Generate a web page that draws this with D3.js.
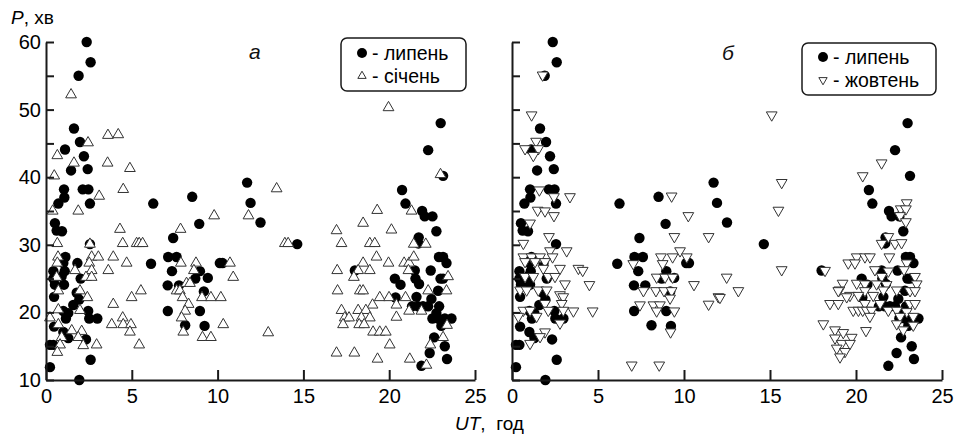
<!DOCTYPE html>
<html><head><meta charset="utf-8">
<script src="https://cdn.jsdelivr.net/npm/d3@7"></script>
<style>
body{margin:0;background:#fff;}
svg{display:block;font-family:"Liberation Sans",Arial,sans-serif;}
</style></head>
<body><svg id="c" width="954" height="437"></svg>
<script>
// ---- data: [UT (h), P (min)] ----
const july = [
[2.37,60],[2.60,57],[1.90,55],[1.63,47.2],[1.98,45.2],[1.11,44.1],[2.21,43.1],[2.43,41.2],[1.46,41.0],[1.05,38.2],[2.14,38.2],[2.47,38.2],[1.07,37],[0.72,36.1],[2.56,36.1],[0.52,33.2],[0.62,32.1],[0.93,32.0],[2.56,30.1],[1.13,28.2],[1.01,27.3],[1.83,27.3],[0.43,26.1],[1.09,26.1],[0.43,25.0],[0.91,25.3],[2.02,25.0],[0.52,24.1],[1.05,24.1],[0.47,22.3],[1.79,22.9],[1.94,21.9],[1.59,21.1],[1.01,20.2],[2.46,20.2],[1.3,19.9],[1.16,19.1],[2.52,19.1],[2.99,19.1],[0.47,17.9],[1.01,17.1],[1.3,16.2],[2.33,16.0],[0.23,15.2],[0.43,15.2],[2.6,13.0],[0.23,11.9],[1.94,10.0],
[6.25,36.1],[8.52,37.1],[8.93,33.1],[7.41,31.0],[7.12,28.2],[7.61,28.2],[6.12,27.2],[7.34,26.1],[8.97,26.1],[10.13,27.3],[10.29,27.3],[7.09,24.0],[7.75,24.0],[8.70,25.0],[9.43,25.1],[9.2,23.1],[7.1,20.2],[8.97,20.2],[8.11,18.1],[9.24,18.0],
[11.72,39.2],[11.92,36.2],[12.5,33.3],[14.64,30.1],[18.0,26.2],
[23.0,48],[22.27,44],[23.14,40.2],[20.75,38.1],[20.95,36.1],[21.92,35.0],[22.07,34.2],[22.52,34.2],[22.75,32.0],[21.72,31.1],[21.7,30.2],[22.9,28.2],[23.14,28.2],[23.34,27.3],[22.42,26.2],[21.49,26.2],[22.99,25.0],[23.14,25.0],[20.33,25.0],[20.66,24.1],[21.53,25.0],[21.74,24.2],[22.85,23.2],[22.46,22.0],[20.37,22.2],[21.59,22.3],[21.33,20.9],[21.68,20.9],[21.97,20.9],[22.27,20.9],[22.91,20.9],[22.75,19.9],[22.52,19.1],[22.85,19.1],[23.24,19.1],[23.63,19.1],[23.04,18.0],[22.62,16.3],[23.24,15.0],[22.36,14.0],[23.37,13.1],[21.88,12.1]
];
const january = [
[1.46,52.2],[2.45,45.1],[3.61,46.2],[4.21,46.3],[0.66,43.2],[1.63,42.1],[3.59,42.1],[4.89,41.3],[0.48,40.2],[3.1,37.2],[4.5,38.2],[0.39,35.0],[1.88,35.0],[9.8,34.3],
[19.96,50.3],[13.44,38.3],[22.99,40.4],[19.3,35.1],[21.3,35.0],[11.8,34.3],
[4.31,32.3],[7.84,32.3],[0.66,30.2],[2.56,30.1],[4.47,30.2],[5.28,30.2],[5.43,30.2],[5.63,30.2],
[0.70,28.2],[2.66,28.2],[3.05,28.2],[3.92,28.2],[0.66,27.3],[2.52,27.3],[4.7,27.3],[7.86,27.3],[8.74,27.3],[10.72,27.3],
[1.69,26.2],[2.66,26.2],[3.63,26.2],[8.62,26.2],[0.62,25.2],[2.33,25.2],[2.66,25.2],[10.91,25.2],[8.19,24.3],[8.39,24.3],
[0.72,23.2],[1.98,23.2],[5.53,23.2],[7.61,23.2],[7.8,23.2],[2.41,22.2],[4.99,22.2],[7.96,22.2],[9.09,22.2],[9.61,22.2],[10.19,22.2],
[3.92,21.2],[8.31,21.2],[0.72,20.4],[1.98,20.3],[8.11,20.2],[0.23,19.2],[4.47,19.2],[7.9,19.2],
[0.72,18.2],[3.83,18.2],[4.5,18.2],[4.95,18.2],[10.33,18.2],[4.89,17.1],[1.5,17.3],[2.08,17.2],[8.0,17.1],
[0.91,16.3],[1.88,16.3],[9.12,16.3],[9.61,16.3],[0.82,15.2],[2.17,15.1],[2.95,15.2],[5.43,15.2],[0.66,14.1],
[12.95,17.0],[13.92,30.2],[14.11,30.2],
[16.93,32.1],[18.48,33.2],[20.13,32.2],[17.22,30.2],[18.87,30.2],[19.16,30.2],[21.43,30.1],[22.13,30.1],
[19.26,28.2],[19.96,27.3],[18.48,27.3],[20.87,27.3],[21.16,27.3],[21.43,28.2],
[16.97,26.2],[18.19,26.2],[18.87,26.2],[21.12,26.2],[17.94,25.2],[23.43,25.3],
[16.99,23.2],[18.29,23.2],[18.48,23.2],[22.27,23.2],[23.34,23.2],[19.45,22.2],[19.99,22.2],[20.95,22.2],
[20.42,21.1],[19.03,21.1],[21.16,20.2],[21.88,20.2],[17.22,20.3],[18.19,20.3],[18.64,20.3],
[17.41,19.2],[17.66,19.2],[18.38,19.2],[18.87,19.2],[20.42,19.3],[17.31,18.2],[18.25,18.2],[18.54,18.2],[23.37,18.1],
[19.06,17.1],[19.45,17.1],[19.8,17.1],[23.14,16.3],[20.03,15.2],[22.4,15.2],[16.93,14.0],[17.97,14.0],[19.32,13.1],[21.2,13.1],[22.17,12.2]
];
const october = [
[1.78,55.1],[1.14,49.2],[1.40,45.3],[0.76,44.2],[1.53,44.2],[1.24,43.2],[1.59,38.1],[2.44,37.1],[3.37,37.1],[1.49,35.1],[1.92,35.0],[2.44,34.3],[1.05,33.2],[2.15,31.2],[0.66,30.2],[3.18,29.1],[2.21,29.1],[0.66,28.2],[1.14,28.2],[1.63,28.2],[2.36,28.2],[0.76,27.5],[1.34,27.5],[1.92,27.5],[1.82,26.5],[2.79,26.5],[3.86,26.5],[4.11,26.2],[0.76,25.3],[1.24,25.3],[2.11,25.3],[2.5,25.3],[3.08,24.2],[4.5,24.1],[0.47,23.3],[0.85,23.3],[1.53,23.3],[2.02,23.3],[2.79,22.6],[2.98,22.3],[1.92,21.3],[2.89,21.3],[0.66,20.3],[1.05,20.3],[2.11,20.3],[2.98,20.3],[3.57,20.2],[4.69,20.2],[0.37,19.4],[1.43,19.4],[2.79,18.4],[1.92,17.1],[1.63,16.4],[1.05,15.4],
[9.28,37.2],[10.25,34.3],[7.05,27.2],[8.66,28.2],[9.34,28.2],[9.77,29.1],[10.16,28.2],[9.44,31.2],[11.43,31.2],[8.76,27.2],[8.41,25.2],[8.9,25.2],[9.34,25.2],[7.64,23.2],[8.37,23.2],[8.84,23.2],[9.28,23.2],[10.58,24.1],[9.19,22.1],[7.44,21.1],[8.22,21.1],[8.6,21.1],[8.41,20.2],[9.44,20.2],[11.43,21.2],[12.0,22.3],[9.22,17.1],[6.96,12.2],[8.56,12.2],[12.48,25.2],[13.16,23.2],[12.09,22.2],
[15.1,49.2],[15.68,39.2],[15.49,35.1],[15.68,26.3],
[21.49,42.1],[20.39,40.2],[22.95,36.2],[22.6,35.3],[22.9,35.3],[22.56,34.3],[22.9,33.4],
[21.88,31.2],[21.49,30.2],[22.27,30.2],[22.65,30.3],
[20.04,28.2],[20.52,28.2],[20.81,28.2],[19.55,27.3],[19.94,27.3],[21.94,28.2],[22.95,27.3],
[18.2,26.2],[21.1,26.3],[21.88,26.1],[22.79,26.3],[23.43,25.3],[21.49,25.3],
[19.22,24.3],[20.04,24.3],[20.52,24.2],[21.2,24.2],[21.78,24.1],[23.53,24.2],
[23.14,23.2],[23.43,23.2],[19.03,23.3],[21.59,23.3],[22.37,23.3],[18.97,23.2],[20.52,23.2],
[19.65,22.5],[20.14,22.5],[21.0,22.5],[19.46,22.3],
[18.49,21.3],[18.97,21.3],[20.52,21.3],[21.4,21.3],[23.14,21.3],[23.43,21.3],
[19.84,20.3],[20.14,20.3],[20.39,20.3],[20.62,20.3],[20.91,20.3],[21.88,20.3],[22.37,20.3],[22.95,20.1],
[20.81,19.4],[22.56,19.4],[23.33,19.4],
[18.1,18.3],[22.37,18.3],[22.75,17.4],[23.33,18.1],[20.58,17.3],
[18.78,17.4],[19.26,17.0],[19.75,16.3],[18.78,16.2],[19.17,15.4],[19.65,15.4],[18.88,14.7],[19.36,14.2],[19.07,13.4]
];
const xTicks = [0,5,10,15,20,25];
const yTicks = [10,15,20,25,30,35,40,45,50,55,60];
const yLabels = [10,20,30,40,50,60];
const panelLabels = ["а","б"];
const legendA = ["- липень","- січень"];
const legendB = ["- липень","- жовтень"];
const yTitle = ["P", ", хв"];
const xTitle = ["UT", ",  год"];

// ---- drawing ----
const svg = d3.select("#c");
const y = d3.scaleLinear().domain([10,60]).range([380,42]);
const xA = d3.scaleLinear().domain([0,25]).range([46,475]);
const xB = d3.scaleLinear().domain([0,25]).range([512,942]);
const ink = "#1a1a1a";
const triSym = d3.symbol().type(d3.symbolTriangle).size(50);
const triSmall = d3.symbol().type(d3.symbolTriangle).size(30);

function panel(x, tri, rot, showYLabels, panelLabel, legend, lg){
  const g = svg.append("g");
  g.append("g").selectAll("circle").data(july).join("circle")
    .attr("cx", d=>x(d[0])).attr("cy", d=>y(d[1])).attr("r",5.2).attr("fill","#000");
  g.append("g").selectAll("path").data(tri).join("path")
    .attr("d", triSym)
    .attr("transform", d=>`translate(${x(d[0])},${y(d[1])}) rotate(${rot})`)
    .attr("fill","#fff").attr("stroke","#333").attr("stroke-width",1);
  const ax = g.append("g").attr("transform","translate(0,380)")
    .call(d3.axisBottom(x).tickValues(xTicks).tickSizeInner(-10).tickSizeOuter(0).tickPadding(9));
  const ay = g.append("g").attr("transform",`translate(${x(0)},0)`)
    .call(d3.axisLeft(y).tickValues(yTicks).tickSizeInner(-8).tickSizeOuter(0).tickPadding(5)
      .tickFormat(d => showYLabels && yLabels.includes(d) ? d : ""));
  [ax,ay].forEach(a=>{
    a.select(".domain").attr("stroke",ink).attr("stroke-width",2);
    a.selectAll(".tick line").attr("stroke",ink).attr("stroke-width",2);
    a.selectAll(".tick text").attr("fill","#000").style("font-size","20px")
      .style("font-family","'Liberation Sans',Arial,sans-serif");
  });
  g.append("text").attr("x",lg.px).attr("y",lg.py).attr("font-style","italic")
    .attr("font-size",21).attr("fill","#111").text(panelLabel);
  g.append("rect").attr("x",lg.x).attr("y",lg.y).attr("width",lg.w).attr("height",lg.h)
    .attr("rx",6).attr("fill","#fff").attr("stroke",ink).attr("stroke-width",1.5);
  g.append("circle").attr("cx",lg.mx).attr("cy",lg.y1).attr("r",5).attr("fill","#000");
  g.append("path").attr("d",triSmall)
    .attr("transform",`translate(${lg.mx},${lg.y2}) rotate(${rot})`)
    .attr("fill","#fff").attr("stroke","#333").attr("stroke-width",1);
  g.append("text").attr("x",lg.tx).attr("y",lg.y1).attr("dy","0.35em").attr("font-size",19.5).attr("fill","#000").text(legend[0]);
  g.append("text").attr("x",lg.tx).attr("y",lg.y2).attr("dy","0.35em").attr("font-size",19.5).attr("fill","#000").text(legend[1]);
}

panel(xA, january, 0, true, panelLabels[0], legendA,
  {px:249, py:59, x:341, y:38, w:125, h:53, mx:362, tx:372, y1:53, y2:76});
panel(xB, october, 180, false, panelLabels[1], legendB,
  {px:722, py:60, x:802, y:43, w:134, h:52, mx:823, tx:833, y1:57, y2:80});

const yt = svg.append("text").attr("x",11).attr("y",24).attr("font-size",19).attr("fill","#000");
yt.append("tspan").attr("font-style","italic").text(yTitle[0]);
yt.append("tspan").text(yTitle[1]);
const xt = svg.append("text").attr("x",455).attr("y",430).attr("font-size",19).attr("fill","#000");
xt.append("tspan").attr("font-style","italic").text(xTitle[0]);
xt.append("tspan").style("white-space","pre").text(xTitle[1]);
</script></body></html>
